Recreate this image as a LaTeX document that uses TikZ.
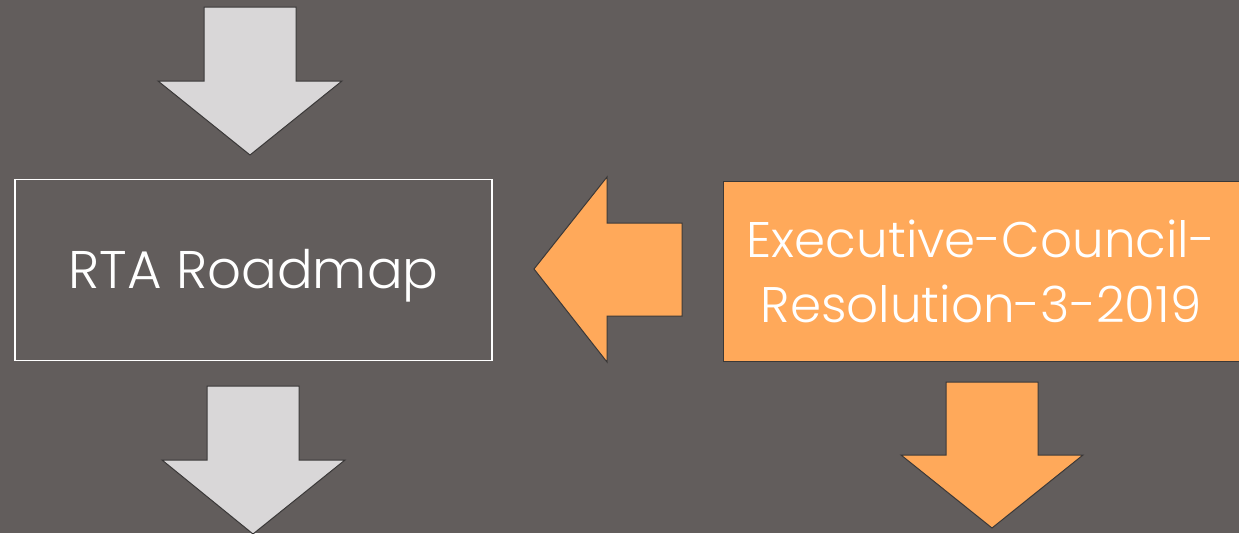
\documentclass[tikz,border=0pt]{standalone}
\usepackage{fontspec}
\setmainfont{Poppins Light}
\definecolor{bgc}{HTML}{625D5C}
\definecolor{lgray}{HTML}{D9D7D8}
\definecolor{orng}{HTML}{FFA95A}
\definecolor{edge}{HTML}{3A3838}
\tikzset{
  grayarrow/.style={fill=lgray,draw=edge,line width=1pt,line join=miter},
  orangearrow/.style={fill=orng,draw=edge,line width=1pt,line join=miter},
  lbl/.style={text=white,font=\fontsize{52}{65}\selectfont,align=center}
}
\begin{document}
\begin{tikzpicture}[x=1pt,y=-1pt]
\fill[bgc] (0,0) rectangle (1239,533);
\useasboundingbox (0,0) rectangle (1239,533);
% top gray arrow
\draw[grayarrow] (204,7) -- (296,7) -- (296,81) -- (342,81) -- (250,155) -- (158,81) -- (204,81) -- cycle;
% RTA box
\node[draw=white,line width=1.6pt,minimum width=477pt,minimum height=181pt,inner sep=0pt] (rta) at (253.5,270) {};
\node[lbl,font=\fontsize{53}{65}\selectfont] (rtatxt) at ([yshift=-6pt]rta.center) {RTA Roadmap};
% left orange arrow
\draw[orangearrow] (534,269) -- (607,177) -- (607,223) -- (682,223) -- (682,316) -- (607,316) -- (607,362) -- cycle;
% orange box
\fill[orng] (723,181) rectangle (1245,361);
\draw[edge,line width=1pt] (1245,181) -- (723,181) -- (723,361) -- (1245,361);
\coordinate (exc) at (981,271);
\node[lbl,font=\fontsize{50}{65}\selectfont] (exctxt) at (exc) {Executive-Council-\\Resolution-3-2019};
% bottom gray arrow
\draw[grayarrow] (207,386) -- (299,386) -- (299,460) -- (345,460) -- (253,534) -- (162,460) -- (207,460) -- cycle;
% bottom orange arrow
\draw[orangearrow] (946,382) -- (1038,382) -- (1038,455) -- (1083,455) -- (992,528) -- (901,455) -- (946,455) -- cycle;
\end{tikzpicture}
\end{document}
